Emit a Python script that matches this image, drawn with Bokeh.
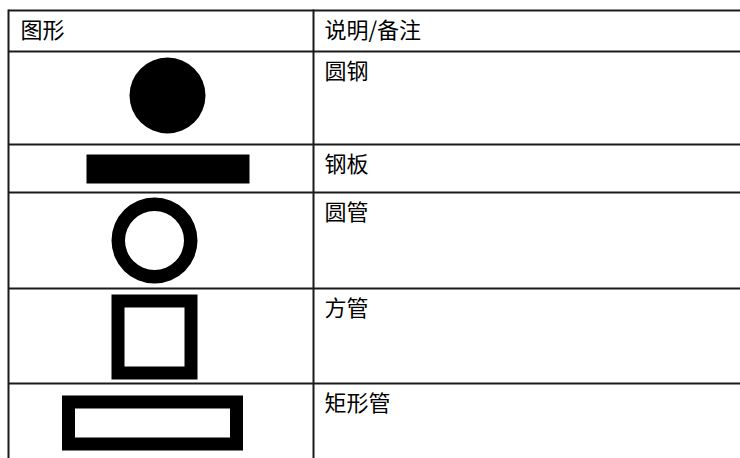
from bokeh.plotting import figure
from bokeh.models import Range1d
from bokeh.core.properties import value
from bokeh.embed import file_html
from bokeh.resources import INLINE

# ---- data ----
header = ["图形", "说明/备注"]
descriptions = ["圆钢", "钢板", "圆管", "方管", "矩形管"]
shapes = ["round_bar", "plate", "round_tube", "square_tube", "rect_tube"]

# ---- layout (pixels) ----
W, H = 740, 458
table_left = 8
table_top = 10
row_heights = [41, 93, 48, 96, 95, 95]   # header + 5 rows
col_split = 313
text_pad_x = 11
text_pad_y = 1.5
line_color = "#1a1a1a"
line_w = 2

# shape geometry: offset from cell centre x, offset from row top, sizes
geom = {
    "round_bar":   dict(dx=6.5, dy=44, r=38),
    "plate":       dict(dx=7, dy=24.5, w=163, h=29),
    "round_tube":  dict(dx=-6.5, dy=48, r_out=43, r_in=29.5),
    "square_tube": dict(dx=-6.5, dy=48.5, w=86, h=85, t=13),
    "rect_tube":   dict(dx=-8.5, dy=39.5, w=181, h=55, t=13),
}

p = figure(width=W, height=H, output_backend="svg", toolbar_location=None,
           x_range=Range1d(0, W), y_range=Range1d(H, 0),
           x_axis_location=None, y_axis_location=None, min_border=0)
p.grid.visible = False
p.outline_line_color = None
p.background_fill_color = "white"

# row boundaries
tops = [table_top]
for h in row_heights:
    tops.append(tops[-1] + h)

# horizontal lines
hl = tops[:-1]
p.segment(x0=[table_left] * len(hl), y0=hl, x1=[W + 10] * len(hl), y1=hl,
          line_color=line_color, line_width=line_w)
# vertical lines
p.segment(x0=[table_left, col_split], y0=[table_top - 1, table_top - 1],
          x1=[table_left, col_split], y1=[H + 50, H + 50],
          line_color=line_color, line_width=line_w)

font = value("Noto Sans CJK SC")
fsize = "22px"
# header text
p.text(x=[table_left + text_pad_x + 1, col_split + text_pad_x], y=[tops[0] + text_pad_y] * 2,
       text=header, text_font=font, text_font_size=fsize, text_baseline="top",
       text_color="black")
# description text
p.text(x=[col_split + text_pad_x] * len(descriptions),
       y=[tops[i + 1] + text_pad_y for i in range(len(descriptions))],
       text=descriptions, text_font=font, text_font_size=fsize,
       text_baseline="top", text_color="black")

cx0 = (table_left + col_split) / 2
for i, kind in enumerate(shapes):
    g = geom[kind]
    cx = cx0 + g["dx"]
    cy = tops[i + 1] + g["dy"]
    if kind == "round_bar":
        p.circle(x=[cx], y=[cy], radius=g["r"], fill_color="black", line_color=None)
    elif kind == "plate":
        p.rect(x=[cx], y=[cy], width=g["w"], height=g["h"], fill_color="black", line_color=None)
    elif kind == "round_tube":
        p.annulus(x=[cx], y=[cy], inner_radius=g["r_in"], outer_radius=g["r_out"],
                  fill_color="black", line_color=None)
    else:
        t = g["t"]
        p.rect(x=[cx], y=[cy], width=g["w"], height=g["h"], fill_color="black", line_color=None)
        p.rect(x=[cx], y=[cy], width=g["w"] - 2 * t, height=g["h"] - 2 * t,
               fill_color="white", line_color=None)

open("out.html", "w").write(file_html(p, INLINE))
